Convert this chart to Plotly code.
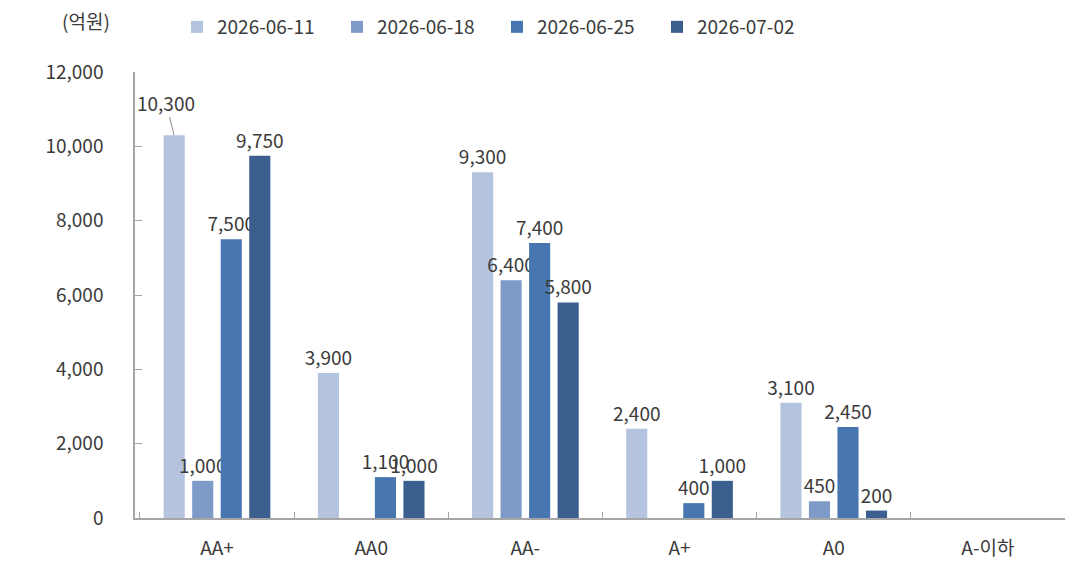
import plotly.graph_objects as go

# Rating buckets and weekly issuance amounts (억원)
categories = ["AA+", "AA0", "AA-", "A+", "A0", "A-이하"]
series_names = ["2026-06-11", "2026-06-18", "2026-06-25", "2026-07-02"]
values_0611 = [10300, 3900, 9300, 2400, 3100, 0]
values_0618 = [1000, 0, 6400, 0, 450, 0]
values_0625 = [7500, 1100, 7400, 400, 2450, 0]
values_0702 = [9750, 1000, 5800, 1000, 200, 0]
y_ticks = [0, 2000, 4000, 6000, 8000, 10000, 12000]

colors = ["#B4C4DF", "#7E9BC8", "#4776B1", "#3A5E8E"]
all_values = [values_0611, values_0618, values_0625, values_0702]

FONT = "Malgun Gothic, Noto Sans CJK KR, sans-serif"
FS = 19
TXT = "#3b3b3b"
AXIS = "#a6a6a6"

fig = go.Figure()
for si, (name, vals, col) in enumerate(zip(series_names, all_values, colors)):
    labels = []
    for ci, v in enumerate(vals):
        # the AA+ first-week label is drawn separately with a leader line
        if v == 0 or (si == 0 and ci == 0):
            labels.append("")
        else:
            labels.append(f"{v:,}")
    fig.add_trace(go.Bar(
        x=categories, y=vals, name=name,
        marker=dict(color=col, line=dict(width=0)),
        text=labels, textposition="outside", constraintext="inside",
        textfont=dict(family=FONT, size=FS, color=TXT),
        cliponaxis=False, hoverinfo="skip",
    ))

# callout for the tallest bar, offset above with a short leader line
fig.add_annotation(
    x=categories[0], y=values_0611[0], xref="x", yref="y",
    text=f"{values_0611[0]:,}", showarrow=True, arrowhead=0,
    arrowwidth=1, arrowcolor="#8c8c8c", ax=-8, ay=-33, xshift=-43,
    font=dict(family=FONT, size=FS, color=TXT),
)

# unit label, placed left of the plot area above the y axis
fig.add_annotation(
    x=(86 - 135) / 930, y=(518 - 20) / 446, xref="paper", yref="paper",
    xanchor="center", yanchor="middle",
    text="(억원)", showarrow=False,
    font=dict(family=FONT, size=FS, color=TXT),
)

fig.update_layout(
    width=1071, height=565,
    margin=dict(l=135, r=6, t=72, b=47),
    paper_bgcolor="white", plot_bgcolor="white",
    barmode="group", bargap=0.26, bargroupgap=0.26,
    showlegend=True,
    legend=dict(
        orientation="h", xref="container", yref="container",
        x=177 / 1071, y=1 - 8 / 565, xanchor="left", yanchor="top",
        font=dict(family=FONT, size=FS, color=TXT),
        entrywidth=115, entrywidthmode="pixels",
        itemwidth=30, traceorder="normal",
    ),
    xaxis=dict(
        type="category", showline=True, linecolor=AXIS, linewidth=1.5,
        ticks="inside", tickson="boundaries", ticklen=6, tickcolor=AXIS,
        tickfont=dict(family=FONT, size=FS, color=TXT),
        showgrid=False, ticklabelstandoff=12,
    ),
    yaxis=dict(
        range=[0, 12000], tickvals=y_ticks,
        ticktext=[f"{t:,}" for t in y_ticks],
        showline=True, linecolor=AXIS, linewidth=1.5,
        ticks="inside", ticklen=7, tickcolor=AXIS,
        tickfont=dict(family=FONT, size=FS, color=TXT),
        showgrid=False, zeroline=False, ticklabelstandoff=26,
    ),
    font=dict(family=FONT, color=TXT),
)

fig.write_html("out.html")
